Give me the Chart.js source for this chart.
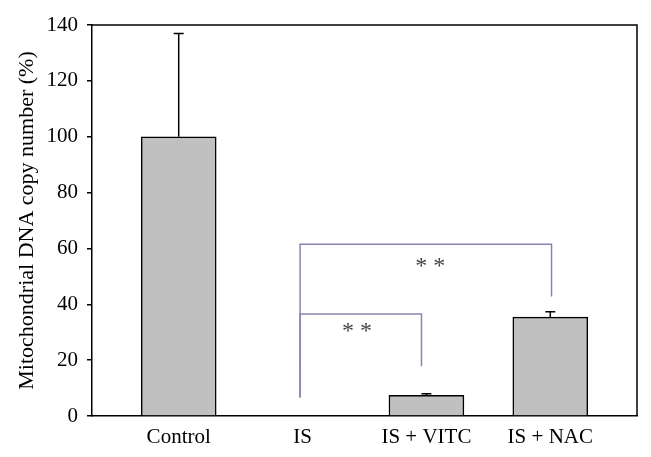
<!DOCTYPE html>
<html>
<head>
<meta charset="utf-8">
<script src="https://cdn.jsdelivr.net/npm/chart.js@4"></script>
<style>
  html, body { margin: 0; padding: 0; background: #fff; }
  #wrap { width: 651px; height: 457px; }
</style>
</head>
<body>
<div id="wrap"><canvas id="mtChart" width="651" height="457"></canvas></div>
<script>
const categories = ['Control', 'IS', 'IS + VITC', 'IS + NAC'];
const means = [100, 0, 7.4, 35.4];
const errors = [37, 0, 0.6, 1.9];

// significance brackets (x in category units, y in %)
const bracketLeft = [0.98, 0.98];
const bracketRight = [1.96, 3.01];
const bracketTop = [36.5, 61.5];
const bracketLeftEnd = [6.6, 6.6];
const bracketRightEnd = [17.8, 42.8];
const starX = [1.44, 2.03];
const starY = [31.6, 55];
const starText = ['* *', '* *'];

const serif = '"Liberation Serif", "DejaVu Serif", serif';
const purple = '#8e80b3';

const extras = {
    id: 'extras',
    afterDatasetsDraw(chart) {
        const c = chart.ctx;
        const xs = chart.scales.x, ys = chart.scales.y;
        const area = chart.chartArea;
        c.save();
        // error bars
        c.strokeStyle = '#000';
        c.lineWidth = 1.5;
        means.forEach((m, i) => {
            if (!errors[i]) return;
            const x = xs.getPixelForValue(i);
            const y0 = ys.getPixelForValue(m);
            const y1 = ys.getPixelForValue(m + errors[i]);
            c.beginPath();
            c.moveTo(x, y0); c.lineTo(x, y1);
            c.moveTo(x - 5, y1); c.lineTo(x + 5, y1);
            c.stroke();
        });
        // brackets
        c.strokeStyle = purple;
        c.lineWidth = 1.5;
        bracketTop.forEach((t, i) => {
            const xl = xs.getPixelForValue(bracketLeft[i]);
            const xr = xs.getPixelForValue(bracketRight[i]);
            c.beginPath();
            c.moveTo(xl, ys.getPixelForValue(bracketLeftEnd[i]));
            c.lineTo(xl, ys.getPixelForValue(t));
            c.lineTo(xr, ys.getPixelForValue(t));
            c.lineTo(xr, ys.getPixelForValue(bracketRightEnd[i]));
            c.stroke();
        });
        // stars
        c.fillStyle = '#444';
        c.font = '24px ' + serif;
        c.textAlign = 'center';
        c.textBaseline = 'middle';
        starText.forEach((s, i) => {
            c.fillText(s, xs.getPixelForValue(starX[i]), ys.getPixelForValue(starY[i]) + 4);
        });
        // frame top and right
        c.strokeStyle = '#000';
        c.lineWidth = 1.5;
        c.beginPath();
        c.moveTo(area.left, area.top);
        c.lineTo(area.right, area.top);
        c.lineTo(area.right, area.bottom);
        c.stroke();
        c.restore();
    }
};

new Chart(document.getElementById('mtChart').getContext('2d'), {
    type: 'bar',
    data: {
        datasets: [{
            data: means.map((v, i) => ({ x: i, y: v })),
            backgroundColor: '#c0c0c0',
            borderColor: '#000',
            borderWidth: 1.5,
            barThickness: 75
        }]
    },
    options: {
        responsive: false,
        animation: false,
        layout: { padding: { left: 14, right: 14, top: 25, bottom: 0 } },
        plugins: { legend: { display: false }, tooltip: { enabled: false } },
        scales: {
            x: {
                type: 'linear',
                offset: false,
                min: -0.7,
                max: 3.7,
                afterBuildTicks: s => { s.ticks = categories.map((_, i) => ({ value: i })); },
                afterFit: s => { s.height = 41; },
                ticks: {
                    callback: v => categories[v],
                    color: '#000',
                    font: { family: serif, size: 21 },
                    padding: 9,
                    maxRotation: 0
                },
                grid: { display: true, drawOnChartArea: false, drawTicks: false },
                border: { color: '#000', width: 1.5 }
            },
            y: {
                min: 0,
                max: 140,
                afterFit: s => { s.width = 78; },
                ticks: {
                    stepSize: 20,
                    color: '#000',
                    font: { family: serif, size: 21 },
                    padding: 9
                },
                grid: { drawOnChartArea: false, drawTicks: true, tickLength: 5, color: '#000', lineWidth: 1.5 },
                border: { color: '#000', width: 1.5 },
                title: {
                    display: true,
                    text: 'Mitochondrial DNA copy number (%)',
                    color: '#000',
                    font: { family: serif, size: 22 },
                    padding: 0
                }
            }
        }
    },
    plugins: [extras]
});
</script>
</body>
</html>
